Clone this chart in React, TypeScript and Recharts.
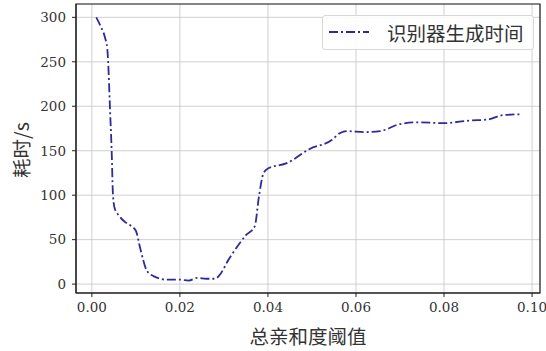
import React from 'react';
import { LineChart, Line, XAxis, YAxis, CartesianGrid, ReferenceArea } from 'recharts';

// threshold values (x) and generation time in seconds (y)
const thresholds = [
  0.001, 0.002, 0.003, 0.0035, 0.0037, 0.0041, 0.0045, 0.0048, 0.0052, 0.006,
  0.0075, 0.009, 0.01, 0.011, 0.0125, 0.014, 0.017, 0.02, 0.022, 0.024,
  0.026, 0.028, 0.029, 0.031, 0.033, 0.035, 0.037, 0.038, 0.039, 0.04,
  0.0443, 0.0495, 0.0545, 0.0564, 0.058, 0.062, 0.0655, 0.07, 0.0745, 0.0798,
  0.086, 0.0898, 0.0934, 0.0977,
];
const genTimes = [
  300, 290, 277, 265, 250, 200, 150, 100, 85, 78,
  70, 65, 60, 40, 15, 9, 5, 5, 4, 7,
  6, 6, 10, 27, 42, 55, 65, 100, 125, 130,
  136, 152, 162, 170, 172, 171, 172, 180, 182, 181,
  184, 185, 190, 191,
];
const xTicks = [0, 0.02, 0.04, 0.06, 0.08, 0.1];
const yTicks = [0, 50, 100, 150, 200, 250, 300];
const seriesName = '识别器生成时间';

const data = thresholds.map((x, i) => ({ x, t: genTimes[i] }));

const LINE_COLOR = '#2b2b9c';
const DASH = '9 3 2 3';
const X_DOMAIN: [number, number] = [-0.0036, 0.1018];
const Y_DOMAIN: [number, number] = [-10, 315];
const tickStyle = { fontFamily: '"DejaVu Serif", serif', fontSize: 13.5, fill: '#333' };
const cjk = '"Noto Sans CJK SC", sans-serif';

const LegendBox = () => (
  <div
    style={{
      position: 'absolute',
      left: 322,
      top: 15,
      width: 210,
      height: 33,
      border: '1px solid #d8d8d8',
      borderRadius: 3,
      background: 'rgba(255,255,255,0.85)',
      display: 'flex',
      alignItems: 'center',
    }}
  >
    <svg width={60} height={33}>
      <line x1={6} x2={46} y1={16} y2={16} stroke={LINE_COLOR} strokeWidth={1.8} strokeDasharray={DASH} />
    </svg>
    <span style={{ fontFamily: cjk, fontSize: 19.5, color: '#333', marginLeft: 4 }}>{seriesName}</span>
  </div>
);

export default function App() {
  return (
    <div style={{ position: 'absolute', left: 0, top: 0, width: 546, height: 351, background: '#fff' }}>
      <LineChart width={546} height={351} data={data} margin={{ top: 4, right: 6, bottom: 0, left: 0 }}>
        <CartesianGrid stroke="#c4c4c4" strokeWidth={0.8} />
        <XAxis
          dataKey="x"
          type="number"
          domain={X_DOMAIN}
          ticks={xTicks}
          allowDataOverflow
          height={58}
          tickFormatter={(v: number) => v.toFixed(2)}
          tick={tickStyle}
          tickSize={4}
          tickMargin={5}
          stroke="#222"
          label={{
            content: () => (
              <text x={308} y={344} textAnchor="middle" fontFamily={cjk} fontSize={19.5} fill="#333">
                总亲和度阈值
              </text>
            ),
          }}
        />
        <YAxis
          type="number"
          domain={Y_DOMAIN}
          ticks={yTicks}
          allowDataOverflow
          width={76}
          tick={tickStyle}
          tickSize={4}
          tickMargin={6}
          stroke="#222"
          label={{
            content: () => (
              <text
                x={20}
                y={150}
                transform="rotate(-90 20 150)"
                textAnchor="middle"
                dominantBaseline="central"
                fontFamily={cjk}
                fontSize={19.5}
                fill="#333"
              >
                耗时/s
              </text>
            ),
          }}
        />
        <ReferenceArea
          x1={X_DOMAIN[0]}
          x2={X_DOMAIN[1]}
          y1={Y_DOMAIN[0]}
          y2={Y_DOMAIN[1]}
          fill="none"
          stroke="#222"
          strokeWidth={1.2}
          ifOverflow="extendDomain"
        />
        <Line
          type="monotone"
          dataKey="t"
          name={seriesName}
          stroke={LINE_COLOR}
          strokeWidth={1.8}
          strokeDasharray={DASH}
          dot={false}
          isAnimationActive={false}
        />
      </LineChart>
      <LegendBox />
    </div>
  );
}
